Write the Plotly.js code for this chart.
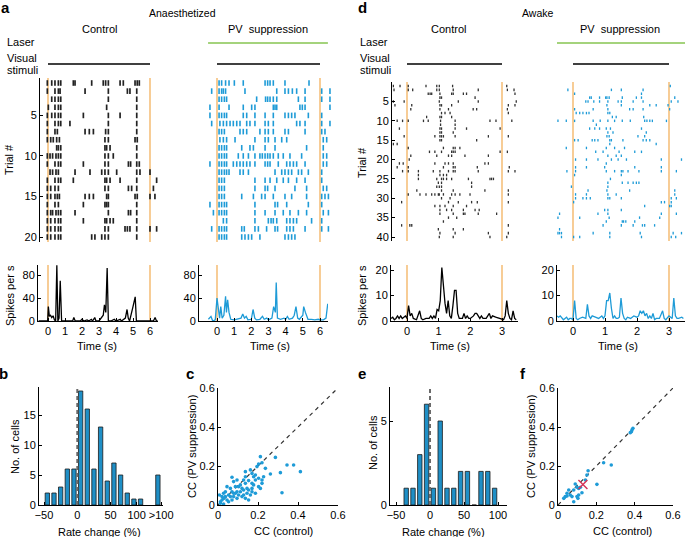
<!DOCTYPE html>
<html><head><meta charset="utf-8">
<script src="https://cdn.plot.ly/plotly-3.0.1.min.js"></script>
<style>html,body{margin:0;padding:0;background:#fff}#chart{width:685px;height:537px}</style>
</head><body><div id="chart"></div>
<script>
// ---------------- DATA ----------------
// stimulus / laser periods (s)
const stimA = [0, 6];
const stimD = [0, 3];
const laserA = [-0.52, 6.46];
const laserD = [-0.5, 3.5];

// Panel a raster: spike times (s), one array per trial
const aCtrlSpikes = [
 [-0.04,0.22,0.41,0.61,0.75,1.49,1.59,2.57,3.25,3.39,3.55,4.24,4.43,5.12,5.25,5.37],
 [-0.04,0.41,0.61,0.71,2.18,3.55,4.67,4.82,5.22],
 [0.22,0.41,0.61,0.75,3.55,5.22],
 [0.02,0.41,0.61,0.75,3.45,5.22],
 [-0.04,0.22,0.41,0.61,0.75,2.08,3.55,4.24,5.22],
 [-0.04,0.41,0.61,0.75,1.29,3.55,5.22],
 [-0.04,0.41,0.55,2.18,2.43,2.67,3.39,3.55,5.22],
 [-0.04,0.16,0.31,0.51,0.67,3.35,3.55,5.12,5.25],
 [0.51,0.61,0.75,3.35,3.45,3.65,5.22],
 [-0.04,0.12,0.27,0.47,0.61,0.75,3.35,3.55,3.84,5.22],
 [-0.04,0.41,0.61,0.75,2.08,3.35,3.55,4.73,4.86,5.22,5.37],
 [0.12,0.27,0.47,0.61,1.59,2.47,3.16,3.35,3.55,4.04,5.22,5.41,6.0],
 [-0.04,0.41,0.61,0.75,1.49,3.35,3.45,3.65,4.24,5.22,6.39],
 [-0.04,0.16,0.41,0.61,3.35,3.55,4.73,4.92,5.22,6.2],
 [-0.04,0.16,0.41,0.55,0.67,2.18,2.43,2.67,3.45,3.55,5.12,5.25,6.0,6.29],
 [-0.04,0.41,0.61,2.08,3.35,3.45,3.55,5.22],
 [-0.04,0.16,0.27,0.47,0.61,0.75,1.59,3.55,4.73,4.86,5.22],
 [-0.04,0.16,0.41,0.61,0.75,2.08,3.35,3.45,3.65,3.84,5.22],
 [-0.04,0.16,0.41,0.61,0.75,3.35,3.55,4.53,4.67,4.82,5.22,6.0,6.39],
 [-0.04,0.16,0.41,0.61,0.75,2.57,2.76,3.16,3.35,3.55,5.22]
];
const aPVSpikes = [
 [0.12,0.27,0.50,0.70,1.01,1.53,2.80,2.95,3.09,3.28,3.96,5.36],
 [-0.31,0.12,0.27,0.37,0.50,1.63,3.48,3.96,4.16,4.39,4.64,5.13,6.10,6.58],
 [0.12,0.27,0.43,0.56,2.31,2.83,2.95,3.09,3.28,3.48,4.74,5.13,6.10,6.58],
 [-0.41,0.12,0.70,1.53,2.02,2.21,3.28,3.38,3.48,4.83,4.97,5.13,6.58],
 [-0.41,0.12,0.27,0.43,0.56,1.53,1.73,2.21,2.80,3.28,3.96,4.16,4.35,4.54,5.32,6.10],
 [-0.31,0.17,0.37,0.56,0.76,0.95,1.15,1.34,1.73,1.92,2.21,2.80,2.99,3.28,4.64,4.83,5.13,6.10,6.58],
 [0.12,0.27,0.43,1.34,1.53,1.73,2.50,2.80,2.99,3.28,3.96,4.16,5.13,6.10,6.29],
 [0.17,0.37,0.56,1.05,2.21,2.80,2.99,3.38,3.77,4.06,6.19,6.39],
 [0.12,0.27,0.43,0.56,1.44,1.92,2.12,2.80,3.38,5.22,6.19],
 [0.12,0.27,0.43,0.56,1.24,1.53,1.83,2.21,2.50,2.64,2.80,2.95,3.09,3.28,3.57,3.86,4.25,4.93,6.19,6.39],
 [-0.41,0.12,0.27,0.43,0.56,0.95,1.15,1.34,1.53,1.73,1.92,2.21,2.80,2.95,3.09,3.57,4.06,4.25,4.45,4.64,5.13,6.19,6.39],
 [0.12,0.27,0.43,0.56,0.70,1.34,1.53,1.83,3.38,3.77,3.96,4.16,4.35,4.74,4.93,5.32,6.10],
 [0.12,0.27,0.43,2.21,2.80,3.09,3.48,3.86,4.16,4.64,5.13,6.10],
 [0.12,0.27,0.43,2.21,2.80,2.95,3.38,4.54,5.22,6.19,6.39],
 [0.12,0.27,0.43,1.44,2.12,2.60,2.80,3.28,3.96,4.35,5.22,6.10,6.29,6.49],
 [-0.41,0.12,0.27,0.43,0.56,2.21,3.38,3.53,4.06,5.32,6.10],
 [-0.21,0.12,0.27,0.43,0.56,2.21,2.80,3.38,3.86,4.25,4.74,5.22,6.19,6.49],
 [0.37,0.56,2.21,2.99,3.15,3.28,3.48,4.06,4.25,4.45,4.64,5.51,6.10],
 [-0.31,0.12,0.27,0.43,0.56,1.44,1.59,2.21,2.41,2.89,3.38,3.53,4.06,4.25,4.45,5.13,6.10,6.49],
 [0.12,0.27,0.43,0.56,1.44,1.63,1.83,2.02,2.50,3.96,4.16,4.35,4.54]
];

// Panel d raster
const dCtrlSpikes = [
 [-0.43,-0.22,0.04,0.60,0.94,1.02,1.44,3.15],
 [-0.41,0.04,0.18,0.94,1.02,1.46,2.25,3.17,3.38],
 [0.67,0.73,0.78,1.04,1.41,1.46,1.78,1.88,3.41],
 [1.04,1.09,2.15],
 [-0.43,-0.09,1.02,1.62,2.25,3.45],
 [-0.38,0.15,1.04,1.09,1.41,3.2,3.41],
 [0.12,1.04,1.31,2.09,2.2,3.17],
 [-0.48,1.09,1.2,1.36,3.2],
 [0.62,1.04,1.09,1.41],
 [-0.31,-0.14,0.04,0.52,0.67,1.06,1.52,2.62,2.81,3.31],
 [1.06,1.52],
 [-0.24,1.04,1.09,1.52,1.88,2.94],
 [1.04,1.09,1.46],
 [-0.09,0.88,1.04,1.09,1.15,1.52,2.57,3.2],
 [1.04,1.09,2.2],
 [-0.43,-0.31],
 [0.04,1.15,1.46,1.52,1.67],
 [0.71,0.88,1.09,1.41,1.46,1.52,2.94,3.17],
 [0.12,0.94,1.31,1.41,1.83,2.57],
 [0.07],
 [-0.24,-0.12,0.88,1.2,1.31,1.46,2.46,2.57],
 [-0.31,0.04,1.15,1.46,1.52,2.22,3.23],
 [-0.14,0.04,0.36,0.83,1.04,1.31,1.46,1.52,2.25,3.2,3.41],
 [0.36,1.04,1.15,1.25],
 [0.36,0.94,1.09,1.15,1.25,1.41,1.94,2.62,2.67,2.73],
 [0.99,1.09,2.04],
 [0.94,1.02,1.09,2.04],
 [0.31,1.09,1.46,2.46,3.2],
 [0.04,0.41,0.6,0.78,0.88,0.99,1.02,1.15,1.41,1.52,1.67,1.99,3.2],
 [1.09,1.36],
 [-0.17,1.31,1.62,2.04,2.22,3.2],
 [0.88,1.04,1.2,1.46,1.88],
 [1.04,1.25,1.41,1.78,2.15,2.28],
 [1.04,1.46,1.78,1.83,2.25,2.83],
 [1.31,1.57],
 [1.15],
 [-0.17,0.09,0.15,3.2],
 [0.99,1.46,1.78],
 [1.04,1.52,2.57,3.2],
 [1.02,1.46,2.62,3.15]
];
const dPVSpikes = [
 [3.04],
 [-0.16,1.20,1.51,2.19],
 [0.05,2.14],
 [0.52,0.57,0.83,1.02,1.06,1.13,1.54,1.98,2.14,3.18],
 [0.40,0.47,0.65,0.83,1.09,1.41,1.51,1.88,2.19,3.07,3.28],
 [1.06,1.51,2.40,2.60,2.97],
 [0.05,0.63,1.09,1.77,1.88,2.19,3.02],
 [0.10,0.21,0.31,0.42,0.50,1.09,1.15],
 [1.23,1.35,2.21],
 [-0.47,-0.21,0.05,0.63,0.85,1.09,1.30,1.54,1.79,2.24,2.31,2.40,2.48,2.92],
 [0.73],
 [0.52,0.68,0.83,1.04,1.17,2.14],
 [1.09,1.25,2.29],
 [1.06,1.13,2.03,2.24],
 [0.05,0.16,0.60,0.68,0.78,1.15,1.20,1.56,2.19,2.29,2.40],
 [1.15,2.60],
 [-0.21,0.42,1.04,1.30,1.61],
 [0.71,0.94,1.44,1.93,2.14],
 [1.09,1.35,1.51],
 [0.08,0.42,0.78,1.20,1.41,1.67,2.76,3.39],
 [1.04],
 [0.08,0.42,0.99,1.93,2.76],
 [-0.19,0.08,1.04,1.30,1.51,1.56,1.72,2.06,2.76,3.23],
 [0.05,1.51],
 [1.17],
 [1.09,1.54,1.72,1.88,1.98,2.06],
 [-0.05,1.09],
 [0.47,1.06,1.77,3.18],
 [0.08,0.42,1.09,1.35,3.18],
 [0.08,0.31,0.42,0.54,1.09,1.15,1.51,3.07,3.23],
 [0.02,2.76,2.86,3.07],
 [2.24,3.02,3.07],
 [0.99,1.09,1.51],
 [-0.42,0.78,1.09,2.76,3.23],
 [-0.47,0.21,1.13,2.08,2.71],
 [1.04,1.54,1.58,1.65,1.93],
 [0.94,1.51,1.88,2.17,2.24,2.55],
 [-0.42],
 [-0.47,-0.42,-0.36,0.63,1.15,2.10,3.13,3.39],
 [-0.36,0.02,0.21,1.15,2.14,3.07,3.21]
];

// PSTHs: time (s) and rate (spikes per s)
const aCtrlT = [-0.55,-0.3,-0.1,-0.02,0.02,0.08,0.15,0.22,0.3,0.38,0.45,0.52,0.58,0.65,0.72,0.8,1.0,1.2,1.45,1.52,1.6,1.9,2.0,2.1,2.3,2.4,2.55,2.62,2.75,2.82,3.0,3.25,3.32,3.4,3.48,3.55,3.7,3.9,4.0,4.25,4.32,4.55,4.65,4.72,4.8,5.0,5.08,5.13,5.2,5.4,5.8,6.2,6.3,6.38,6.45];
const aCtrlR = [0,0,0,0,25,8,10,6,9,2,0,97,0,5,70,0,0,0,0,6,0,0,3,0,2,0,3,0,6,0,0,10,28,15,92,0,0,3,0,3,0,5,20,5,0,25,35,42,0,0,0,0,6,0,0];
const aPVT = [-0.5,-0.35,-0.25,-0.1,0.0,0.08,0.15,0.22,0.3,0.4,0.5,0.55,0.62,0.7,0.8,1.0,1.2,1.4,1.5,1.6,1.7,1.8,2.0,2.1,2.2,2.3,2.5,2.65,2.75,2.9,3.0,3.2,3.3,3.4,3.45,3.52,3.7,3.9,4.0,4.1,4.2,4.4,4.5,4.6,4.7,4.8,5.0,5.05,5.15,5.3,5.5,5.7,5.9,6.0,6.2,6.35,6.45];
const aPVR = [3,8,0,2,40,15,5,25,5,10,43,15,37,15,3,2,3,5,12,5,8,2,3,20,5,2,3,8,3,5,2,5,25,15,67,5,3,5,3,8,3,5,10,25,5,3,10,25,15,3,3,2,3,2,2,5,30];
const dCtrlT = [-0.5,-0.45,-0.4,-0.35,-0.3,-0.25,-0.2,-0.15,-0.1,-0.05,0.0,0.05,0.1,0.15,0.2,0.3,0.4,0.45,0.5,0.6,0.7,0.75,0.8,0.85,0.9,0.95,1.0,1.05,1.1,1.15,1.2,1.25,1.3,1.35,1.4,1.45,1.5,1.55,1.6,1.65,1.7,1.75,1.8,1.85,1.9,1.95,2.0,2.05,2.1,2.15,2.2,2.25,2.3,2.35,2.4,2.5,2.6,2.65,2.7,2.8,2.9,3.0,3.05,3.1,3.15,3.2,3.25,3.3,3.35,3.4,3.45];
const dCtrlR = [1,1.5,0.5,1,2,1,2,1,1.5,2,1,6,2,3,1,0.5,4,1,0.5,1,1,2,1,2,1,4.5,4,8,21,12,7,3,8,2,1,6,12,12,3,1,1,1,3,1,2,1,1,1.5,2,3,3,2,1,2,1,1,3,1,2,1.5,1,0.5,0.5,2,8,3,1,0.5,4,1,0.5];
const dPVT = [-0.5,-0.45,-0.4,-0.35,-0.3,-0.25,-0.2,-0.15,-0.1,-0.05,0.0,0.05,0.1,0.15,0.2,0.3,0.4,0.45,0.5,0.55,0.6,0.7,0.8,0.9,0.95,1.0,1.05,1.1,1.15,1.2,1.25,1.3,1.35,1.4,1.45,1.5,1.55,1.6,1.65,1.7,1.8,1.9,2.0,2.05,2.1,2.15,2.2,2.25,2.3,2.35,2.4,2.45,2.5,2.55,2.6,2.7,2.8,2.85,2.9,3.0,3.05,3.1,3.15,3.2,3.25,3.3,3.4,3.45];
const dPVR = [2,1.5,2,1,0.5,1,1.5,0.5,1,1,0.5,8,1,0.5,1,1.5,1,6.5,2,1,2,1.5,1,2,1,2,8,8,11,5,1,2,1,1,1.5,9,3,1,0.5,1.5,1,2,1.5,2,4,3,4,2,3,1,2,1,3,0.5,1,1,4,1,0.5,2,1.5,1,9,2,1,1,1.5,1];

// Histograms: rate change (%) bin centres and cell counts
const bBins = [-45,-35,-25,-15,-5,5,15,25,35,45,55,65,75,85,95,121];
const bCounts = [2,2,3,6,6,19,16,6,13,4,7,5,2,1,1,5];
const bTickVals = [-50,0,50,89,126];
const bTickText = ['\u221250','0','50','100','>100'];
const eBins = [-35,-25,-15,-5,5,15,25,35,45,55,65,75,85,95];
const eCounts = [1,1,3,6,1,5,1,1,2,2,0,2,2,1];

// Scatter: CC (control) vs CC (PV suppression)
const cCtrl = [0.212,0.22,0.203,0.287,0.345,0.378,0.412,0.312,0.32,0.262,0.137,0.17,0.178,0.187,0.17,0.203,0.153,0.137,0.128,0.07,0.078,0.087,0.103,0.112,0.12,0.128,0.095,0.087,0.07,0.062,0.045,0.037,0.053,0.037,0.028,0.02,0.012,0.007,0.012,0.045,0.062,0.078,0.103,0.128,0.145,0.162,0.17,0.187,0.145,0.153,0.178,0.22,0.212,0.22,0.228,0.237,0.195,0.12,0.095,0.07,0.053,0.028,0.153,0.137,0.112,0.078,0.17,0.187,0.162,0.095,0.028,0.02,0.203,0.137];
const cPV   = [0.248,0.217,0.21,0.244,0.205,0.205,0.171,0.166,0.063,0.159,0.171,0.162,0.145,0.128,0.111,0.094,0.125,0.111,0.128,0.142,0.12,0.094,0.094,0.103,0.085,0.077,0.068,0.06,0.068,0.085,0.094,0.068,0.051,0.043,0.034,0.026,0.017,0.051,0.009,0.026,0.043,0.043,0.051,0.051,0.06,0.051,0.068,0.06,0.085,0.077,0.103,0.111,0.085,0.128,0.145,0.188,0.197,0.043,0.034,0.026,0.017,0.005,0.026,0.034,0.068,0.06,0.085,0.154,0.18,0.128,0.06,0.043,0.137,0.145];
const fCtrl = [0.386,0.391,0.383,0.377,0.238,0.278,0.157,0.151,0.203,0.09,0.108,0.099,0.082,0.056,0.047,0.064,0.038,0.073,0.108,0.099,0.104,0.082,0.047,0.03,0.117,0.143,0.125];
const fPV   = [0.385,0.393,0.376,0.371,0.217,0.205,0.176,0.154,0.106,0.108,0.085,0.091,0.077,0.077,0.06,0.051,0.043,0.043,0.051,0.043,0.034,0.017,0.046,0.034,0.091,0.128,0.063];
const fMeanCtrl = [0.13];
const fMeanPV = [0.105];

// ---------------- LAYOUT HELPERS ----------------
const W = 685, H = 537;
const FONT = 'Liberation Sans, Arial, Helvetica, sans-serif';
const BLUE = '#1e9bd7', BAR = '#1f8fc6', ORANGE = '#f5c07c', GREEN = '#86c451';
function dx(a, b) { return [a / W, b / W]; }
function dy(top, bottom) { return [1 - bottom / H, 1 - top / H]; }
function lin(p0, v0, p1, v1) { return p => v0 + (p - p0) * (v1 - v0) / (p1 - p0); }
function rngX(p0, v0, p1, v1, a, b) { const f = lin(p0, v0, p1, v1); return [f(a), f(b)]; }
function rngY(p0, v0, p1, v1, top, bottom) { const f = lin(p0, v0, p1, v1); return [f(bottom), f(top)]; }

const base = {showgrid:false, zeroline:false, showline:true, linecolor:'#000', linewidth:1, tickangle:0,
  ticks:'inside', ticklen:3, tickcolor:'#000', tickfont:{size:11, color:'#000', family:FONT}, fixedrange:true};
function ax(o) { return Object.assign({}, base, o); }
const hidden = {visible:false, fixedrange:true};

const layout = {
  width: W, height: H, margin: {l:0, r:0, t:0, b:0}, showlegend: false,
  paper_bgcolor: '#fff', plot_bgcolor: 'rgba(0,0,0,0)', font: {family: FONT, color: '#000', size: 11},
  // a: rasters
  xaxis:  Object.assign({}, hidden, {domain: dx(40,160), range: rngX(48,0,150,6,40,160), anchor:'y'}),
  yaxis:  ax({domain: dy(78,242), range: rngY(83,1,237,20,78,242), anchor:'x', tickvals:[5,10,15,20]}),
  xaxis2: Object.assign({}, hidden, {domain: dx(205,333), range: rngX(217,0,320,6,205,333), anchor:'y2'}),
  yaxis2: Object.assign({}, hidden, {domain: dy(78,242), range: rngY(83,1,237,20,78,242), anchor:'x2'}),
  // a: PSTHs
  xaxis3: ax({domain: dx(38,158), range: rngX(48,0,150,6,38,158), anchor:'y3', tickvals:[0,1,2,3,4,5,6]}),
  yaxis3: ax({domain: dy(265,321), range: rngY(321,0,275,80,265,321), anchor:'x3', tickvals:[0,40,80]}),
  xaxis4: ax({domain: dx(199,328), range: rngX(217,0,320,6,199,328), anchor:'y4', tickvals:[0,1,2,3,4,5,6]}),
  yaxis4: ax({domain: dy(265,321), range: rngY(321,0,275,80,265,321), anchor:'x4', tickvals:[0,40,80]}),
  // d: rasters
  xaxis5: Object.assign({}, hidden, {domain: dx(392,518), range: rngX(407,0,502,3,392,518), anchor:'y5'}),
  yaxis5: ax({domain: dy(82,241), range: rngY(86,1,237,40,82,241), anchor:'x5', tickvals:[5,10,15,20,25,30,35,40]}),
  xaxis6: Object.assign({}, hidden, {domain: dx(555,685), range: rngX(573,0,669,3,555,685), anchor:'y6'}),
  yaxis6: Object.assign({}, hidden, {domain: dy(82,241), range: rngY(86,1,237,40,82,241), anchor:'x6'}),
  // d: PSTHs
  xaxis7: ax({domain: dx(391,518), range: rngX(407,0,502,3,391,518), anchor:'y7', tickvals:[0,1,2,3]}),
  yaxis7: ax({domain: dy(265,321), range: rngY(321,0,270,20,265,321), anchor:'x7', tickvals:[0,10,20]}),
  xaxis8: ax({domain: dx(557,685), range: rngX(573,0,669,3,557,685), anchor:'y8', tickvals:[0,1,2,3]}),
  yaxis8: ax({domain: dy(265,321), range: rngY(321,0,270,20,265,321), anchor:'x8', tickvals:[0,10,20]}),
  // b histogram
  xaxis9: ax({domain: dx(39,163), range: rngX(77.3,0,110.6,50,39,163), anchor:'y9', tickvals:bTickVals, ticktext:bTickText}),
  yaxis9: ax({domain: dy(387,505), range: rngY(505,0,475,5,387,505), anchor:'x9', tickvals:[0,5,10,15]}),
  // c scatter
  xaxis10: ax({domain: dx(218,338), range:[0,0.6], anchor:'y10', tickvals:[0,0.2,0.4,0.6]}),
  yaxis10: ax({domain: dy(388,505), range:[0,0.6], anchor:'x10', tickvals:[0,0.2,0.4,0.6]}),
  // e histogram
  xaxis11: ax({domain: dx(390,507), range: rngX(430,0,464,50,390,507), anchor:'y11', tickvals:[-50,0,50,100]}),
  yaxis11: ax({domain: dy(387,505), range: rngY(505,0,421,5,387,505), anchor:'x11', tickvals:[0,5]}),
  // f scatter
  xaxis12: ax({domain: dx(558,673), range:[0,0.6], anchor:'y12', tickvals:[0,0.2,0.4,0.6]}),
  yaxis12: ax({domain: dy(388,505), range:[0,0.6], anchor:'x12', tickvals:[0,0.2,0.4,0.6]}),
  shapes: [], annotations: []
};

// ---------------- SHAPES ----------------
function stimLines(xref, yref, times) {
  times.forEach(t => layout.shapes.push({type:'line', xref, yref: yref + ' domain', x0:t, x1:t, y0:0, y1:1,
    line:{color:ORANGE, width:1.6}, layer:'below'}));
}
stimLines('x','y',stimA); stimLines('x2','y2',stimA); stimLines('x3','y3',stimA); stimLines('x4','y4',stimA);
stimLines('x5','y5',stimD); stimLines('x6','y6',stimD); stimLines('x7','y7',stimD); stimLines('x8','y8',stimD);
function hbar(xref, x0, x1, ypx, color) {
  layout.shapes.push({type:'line', xref, yref:'paper', x0, x1, y0:1-ypx/H, y1:1-ypx/H, line:{color, width:1.4}});
}
hbar('x', stimA[0], stimA[1], 64, '#000'); hbar('x2', stimA[0], stimA[1], 64, '#000');
hbar('x5', stimD[0], stimD[1], 64, '#000'); hbar('x6', stimD[0], stimD[1], 64, '#000');
hbar('x2', laserA[0], laserA[1], 43, GREEN); hbar('x6', laserD[0], laserD[1], 43, GREEN);
// zero lines in histograms & unity lines in scatters
[['x9','y9'],['x11','y11']].forEach(([xr,yr]) => layout.shapes.push({type:'line', xref:xr, yref:yr+' domain', x0:0, x1:0, y0:0, y1:1,
  line:{color:'#6a6a6a', width:2, dash:'4px,3px'}}));
[['x10','y10'],['x12','y12']].forEach(([xr,yr]) => layout.shapes.push({type:'line', xref:xr, yref:yr, x0:0, y0:0, x1:0.6, y1:0.6,
  line:{color:'#333', width:1.2, dash:'4px,4px'}, layer:'below'}));

// ---------------- ANNOTATIONS ----------------
function txt(text, x, y, o) {
  layout.annotations.push(Object.assign({text, x: x / W, y: 1 - y / H, xref:'paper', yref:'paper', showarrow:false,
    xanchor:'center', yanchor:'middle', font:{size:11, family:FONT, color:'#000'}}, o || {}));
}
const bold = {font:{size:15, family:FONT, color:'#000', weight:'bold'}};
txt('<b>a</b>', 5, 8, bold); txt('<b>d</b>', 362, 8, bold);
txt('<b>b</b>', 4, 373, bold); txt('<b>c</b>', 190, 373, bold);
txt('<b>e</b>', 362, 373, bold); txt('<b>f</b>', 523, 373, bold);
txt('Anaesthetized', 182, 13, {font:{size:10.5, family:FONT}});
txt('Awake', 537, 13, {font:{size:10.5, family:FONT}});
txt('Control', 99, 29); txt('PV\u00A0 suppression', 268, 29);
txt('Control', 448, 29); txt('PV\u00A0 suppression', 620, 29);
[5, 358].forEach(x0 => {
  txt('Laser', x0, 42, {xanchor:'left'});
  txt('Visual', x0, 58, {xanchor:'left'});
  txt('stimuli', x0, 70, {xanchor:'left'});
});
txt('Trial #', 9, 160, {textangle:-90}); txt('Trial #', 362, 163, {textangle:-90});
txt('Spikes per s', 10, 296, {textangle:-90}); txt('Spikes per s', 362, 296, {textangle:-90});
txt('Time (s)', 97, 346); txt('Time (s)', 270, 346);
txt('Time (s)', 450, 346); txt('Time (s)', 618, 346);
txt('No. of cells', 15, 447, {textangle:-90}); txt('No. of cells', 373, 443, {textangle:-90});
txt('Rate change (%)', 100, 532); txt('Rate change (%)', 443, 532);
txt('CC (PV suppression)', 192, 447, {textangle:-90}); txt('CC (PV suppression)', 531, 447, {textangle:-90});
txt('CC (control)', 283, 531); txt('CC (control)', 622, 531);

// ---------------- TRACES ----------------
function raster(trials, xa, ya, color, size, lw) {
  const x = [], y = [];
  trials.forEach((tr, i) => tr.forEach(t => { x.push(t); y.push(i + 1); }));
  return {type:'scatter', mode:'markers', x, y, xaxis:xa, yaxis:ya, cliponaxis:false, hoverinfo:'skip',
    marker:{symbol:'line-ns-open', size, color, line:{color, width:lw}}};
}
function psth(t, r, xa, ya, color) {
  return {type:'scatter', mode:'lines', x:t, y:r, xaxis:xa, yaxis:ya, cliponaxis:false, hoverinfo:'skip',
    line:{color, width:1.3}};
}
function hist(bins, counts, xa, ya) {
  return {type:'bar', x:bins, y:counts, width:6.5, xaxis:xa, yaxis:ya, hoverinfo:'skip',
    marker:{color:BAR, line:{color:'#1a1a1a', width:0.8}}};
}
function scat(x, y, xa, ya) {
  return {type:'scatter', mode:'markers', x, y, xaxis:xa, yaxis:ya, hoverinfo:'skip', cliponaxis:false,
    marker:{size:3.6, color:BLUE, symbol:'circle'}};
}
const data = [
  raster(aCtrlSpikes, 'x', 'y', '#222', 4, 1.7),
  raster(aPVSpikes, 'x2', 'y2', BLUE, 4, 1.6),
  psth(aCtrlT, aCtrlR, 'x3', 'y3', '#000'),
  psth(aPVT, aPVR, 'x4', 'y4', BLUE),
  raster(dCtrlSpikes, 'x5', 'y5', '#333', 1.8, 1.3),
  raster(dPVSpikes, 'x6', 'y6', BLUE, 1.8, 1.3),
  psth(dCtrlT, dCtrlR, 'x7', 'y7', '#000'),
  psth(dPVT, dPVR, 'x8', 'y8', BLUE),
  hist(bBins, bCounts, 'x9', 'y9'),
  scat(cCtrl, cPV, 'x10', 'y10'),
  hist(eBins, eCounts, 'x11', 'y11'),
  scat(fCtrl, fPV, 'x12', 'y12'),
  {type:'scatter', mode:'markers', x:fMeanCtrl, y:fMeanPV, xaxis:'x12', yaxis:'y12', hoverinfo:'skip',
   marker:{symbol:'x-thin-open', size:9, color:'#d6365a', line:{color:'#d6365a', width:1.5}}}
];

Plotly.newPlot('chart', data, layout, {staticPlot:true, displayModeBar:false});
</script>
</body></html>
